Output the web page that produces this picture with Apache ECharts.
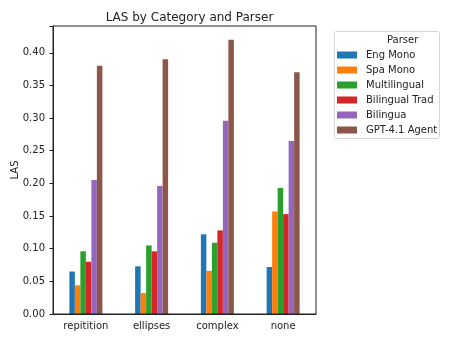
<!DOCTYPE html>
<html>
<head>
<meta charset="utf-8">
<script src="https://cdn.jsdelivr.net/npm/echarts@6/dist/echarts.min.js"></script>
<style>html,body{margin:0;padding:0;background:#fff}#c{width:455px;height:341px}</style>
</head>
<body>
<div id="c"></div>
<script>
const categories = ['repitition', 'ellipses', 'complex', 'none'];
const seriesNames = ['Eng Mono', 'Spa Mono', 'Multilingual', 'Bilingual Trad', 'Bilingua', 'GPT-4.1 Agent'];
const engMono = [0.065, 0.073, 0.122, 0.072];
const spaMono = [0.044, 0.032, 0.066, 0.157];
const multilingual = [0.096, 0.105, 0.109, 0.193];
const bilingualTrad = [0.080, 0.096, 0.128, 0.153];
const bilingua = [0.205, 0.196, 0.296, 0.265];
const gptAgent = [0.380, 0.390, 0.420, 0.370];
const yTicks = [0, 0.05, 0.10, 0.15, 0.20, 0.25, 0.30, 0.35, 0.40];
const colors = ['#1f77b4', '#ff7f0e', '#2ca02c', '#d62728', '#9467bd', '#8c564b'];

const values = [engMono, spaMono, multilingual, bilingualTrad, bilingua, gptAgent];
const font = 'DejaVu Sans';
const txt = '#222';
const G = {left: 53, top: 26, right: 316, bottom: 314};
const chart = echarts.init(document.getElementById('c'), null, {renderer: 'canvas'});
chart.setOption({
  animation: false,
  color: colors,
  title: {
    text: 'LAS by Category and Parser',
    left: 184.5, top: 7, textAlign: 'center',
    textStyle: {fontFamily: font, fontSize: 12, fontWeight: 'normal', color: txt}
  },
  grid: {left: G.left, right: 455 - G.right, top: G.top, bottom: 341 - G.bottom, containLabel: false, outerBoundsMode: 'none'},
  legend: {
    orient: 'vertical', left: 337, top: 49, padding: 0,
    data: seriesNames, icon: 'rect', itemWidth: 20, itemHeight: 7, itemGap: 3,
    textStyle: {fontFamily: font, fontSize: 10, color: txt, lineHeight: 12, padding: [0, 0, 0, 4]}
  },
  graphic: [
    {type: 'rect', left: 334, top: 31, shape: {width: 105, height: 107, r: 2}, style: {fill: 'rgba(255,255,255,0.8)', stroke: '#d6d6d6', lineWidth: 1}, z: -1},
    {type: 'text', left: 387, top: 35, style: {text: 'Parser', font: '10px "DejaVu Sans"', fill: txt, textAlign: 'center'}},
    {type: 'text', x: 15, y: 170, rotation: Math.PI / 2, style: {text: 'LAS', font: '10px "DejaVu Sans"', fill: txt, align: 'center', verticalAlign: 'middle'}},
    {type: 'rect', shape: {x: G.left, y: G.top, width: G.right - G.left, height: G.bottom - G.top}, style: {fill: 'none', stroke: '#222', lineWidth: 1}, z: 10, silent: true}
  ],
  xAxis: {
    type: 'category', data: categories,
    axisLine: {lineStyle: {color: '#222'}},
    axisTick: {alignWithLabel: true, length: 3.5, inside: false, lineStyle: {color: '#222'}},
    axisLabel: {fontFamily: font, fontSize: 10, color: txt, margin: 7, interval: 0}
  },
  yAxis: {
    type: 'value', min: 0, max: 0.441, interval: 0.05,
    splitLine: {show: false},
    axisLine: {show: true, lineStyle: {color: '#222'}},
    axisTick: {show: true, length: 3.5, lineStyle: {color: '#222'}},
    axisLabel: {
      fontFamily: font, fontSize: 10, color: txt, margin: 8,
      formatter: function (v) {
        const t = yTicks.find(x => Math.abs(x - v) < 1e-6);
        return t === undefined ? '' : t.toFixed(2);
      }
    }
  },
  series: seriesNames.map((n, i) => ({
    name: n, type: 'bar', data: values[i],
    barWidth: 5.5, barGap: '0%', barCategoryGap: '50%',
    itemStyle: {color: colors[i]}
  }))
});
</script>
</body>
</html>
